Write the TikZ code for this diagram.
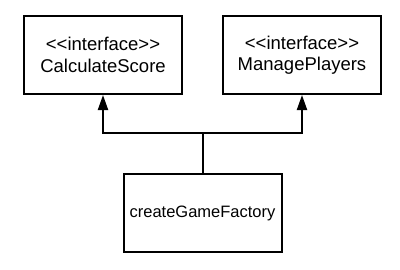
\documentclass[tikz,border=0pt]{standalone}
\usepackage{fontspec}
\setmainfont[Ligatures=NoCommon]{Liberation Sans}
\usetikzlibrary{arrows.meta,positioning}

\begin{document}
\begin{tikzpicture}[x=1pt, y=1pt]
  \tikzstyle{box}=[rectangle, draw, line width=2pt, minimum width=158pt, minimum height=78pt, align=center, inner sep=0pt]
  \tikzstyle{iface}=[font=\fontsize{18.5}{21.5}\selectfont]
  \tikzstyle{impl}=[font=\fontsize{16.5}{20}\selectfont]
  \tikzstyle{realize}=[line width=2pt, -{Triangle[width=10pt, length=15pt]}]

  \useasboundingbox (0,0) rectangle (400,269);

  % Interfaces
  \node[box, iface] (score) at (103,214) {{<}{<}interface{>}{>}\\CalculateScore};
  \node[box, iface] (players) at (302,214) {{<}{<}interface{>}{>}\\ManagePlayers};

  % Factory
  \node[box, impl] (factory) at (202.5,56) {createGameFactory};

  % Junction
  \coordinate (join) at (202.5,136);

  % Connections
  \draw[line width=2pt] (factory.north) -- (join);
  \draw[realize] (join) -| (score.south);
  \draw[realize] (join) -| (players.south);
\end{tikzpicture}
\end{document}
